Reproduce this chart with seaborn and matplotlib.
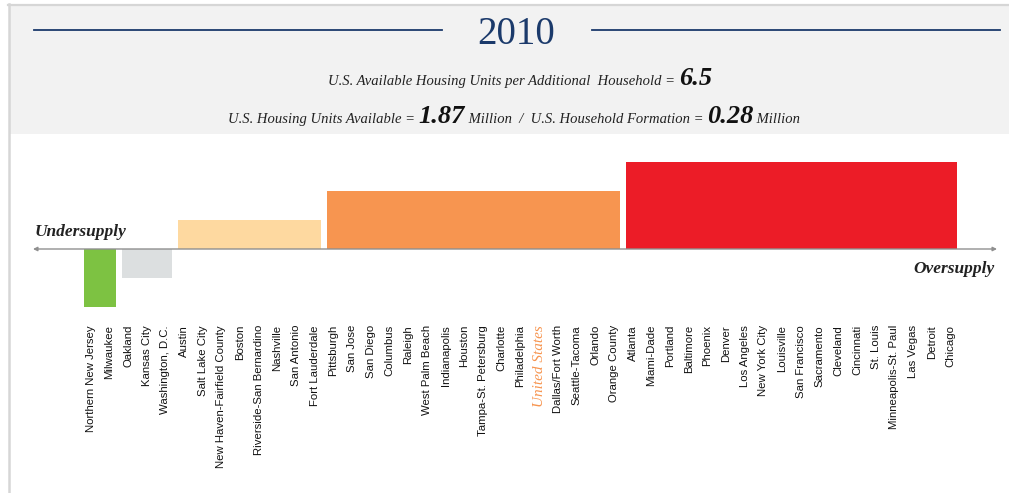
import numpy as np
import pandas as pd
import matplotlib
matplotlib.use("Agg")
import matplotlib.pyplot as plt
import seaborn as sns
from matplotlib.patches import Rectangle
from matplotlib.lines import Line2D

# --- data ---
cities = [
    'Northern New Jersey', 'Milwaukee', 'Oakland', 'Kansas City', 'Washington, D.C.',
    'Austin', 'Salt Lake City', 'New Haven-Fairfield County', 'Boston',
    'Riverside-San Bernardino', 'Nashville', 'San Antonio', 'Fort Lauderdale',
    'Pittsburgh', 'San Jose', 'San Diego', 'Columbus', 'Raleigh', 'West Palm Beach',
    'Indianapolis', 'Houston', 'Tampa-St. Petersburg', 'Charlotte', 'Philadelphia',
    'United States', 'Dallas/Fort Worth', 'Seattle-Tacoma', 'Orlando', 'Orange County',
    'Atlanta', 'Miami-Dade', 'Portland', 'Baltimore', 'Phoenix', 'Denver',
    'Los Angeles', 'New York City', 'Louisville', 'San Francisco', 'Sacramento',
    'Cleveland', 'Cincinnati', 'St. Louis', 'Minneapolis-St. Paul', 'Las Vegas',
    'Detroit', 'Chicago',
]
supply_level = [-2, -2, -1, -1, -1] + [1] * 8 + [2] * 16 + [3] * 18
level_colors = {-2: '#7DC242', -1: '#DCDFE0', 1: '#FED9A0', 2: '#F79550', 3: '#EC1C27'}

title = '2010'
ratio_text = 'U.S. Available Housing Units per Additional  Household = '
ratio_value = '6.5'
units_value = '1.87'
formation_value = '0.28'

df = pd.DataFrame({'city': cities, 'level': supply_level})

W, H = 1009, 493
fig = plt.figure(figsize=(W / 100, H / 100), dpi=100)
fig.patch.set_facecolor('white')


def fx(px):
    return px / W


def fy(py):
    return 1 - py / H


# header band and frame
fig.patches.append(Rectangle((fx(10), fy(134)), 1 - fx(10), fy(6) - fy(134),
                             transform=fig.transFigure, facecolor='#F2F2F2', edgecolor='none', zorder=0))
fig.lines.append(Line2D([fx(8), 1], [fy(5), fy(5)], transform=fig.transFigure, color='#D6D6D6', lw=1.6))
fig.lines.append(Line2D([fx(9), fx(9)], [0, fy(4)], transform=fig.transFigure, color='#D6D6D6', lw=1.8))

navy = '#1B3A6B'
fig.lines.append(Line2D([fx(34), fx(442)], [fy(30), fy(30)], transform=fig.transFigure, color=navy, lw=1.3))
fig.lines.append(Line2D([fx(592), fx(1000)], [fy(30), fy(30)], transform=fig.transFigure, color=navy, lw=1.3))
fig.text(fx(516), fy(35), title, ha='center', va='center', color=navy,
         family='Liberation Serif', fontsize=28)

serif = 'Liberation Serif'


def mixed_line(pieces, xc, yb):
    # lay out text pieces side by side on one baseline, centred at xc
    texts = [fig.text(0, fy(yb), s, ha='left', va='baseline', family=serif, **kw) for s, kw in pieces]
    r = fig.canvas.get_renderer()
    widths = [t.get_window_extent(r).width for t in texts]
    x = xc - sum(widths) / 2
    for t, w in zip(texts, widths):
        t.set_x(fx(x))
        x += w


small = dict(style='italic', fontsize=10.5, color='#222222')
big = dict(style='italic', weight='bold', fontsize=19, color='#111111')
mixed_line([(ratio_text, small), (ratio_value, dict(big, fontsize=19))], 520, 85)
mixed_line([('U.S. Housing Units Available = ', small), (units_value, big),
            (' Million  /  U.S. Household Formation = ', small), (formation_value, big),
            (' Million', small)], 514, 123)

# --- bar chart ---
ax = fig.add_axes([0, fy(320), 1, fy(140) - fy(320)])
sns.barplot(data=df, x='city', y='level', color='#cccccc', width=1.0, linewidth=0,
            errorbar=None, ax=ax)

bars = sorted(ax.patches, key=lambda p: p.get_x())
trim = 0.17
for i, p in enumerate(bars):
    lv = supply_level[i]
    p.set_facecolor(level_colors[lv])
    p.set_edgecolor('none')
    if i == 0 or supply_level[i - 1] != lv:
        p.set_x(p.get_x() + trim)
        p.set_width(p.get_width() - trim)
    if i == len(bars) - 1 or supply_level[i + 1] != lv:
        p.set_width(p.get_width() - trim)

step = 18.69
x0 = 90.65
ax.set_xlim(-x0 / step, (W - x0) / step)
unit = 29.0
ax.set_ylim(-(320 - 249) / unit, (249 - 140) / unit)
ax.axis('off')

# axis line with arrows at both ends
ax.annotate('', xy=(fx(997), fy(249)), xytext=(fx(33), fy(249)), xycoords='figure fraction',
            textcoords='figure fraction',
            arrowprops=dict(arrowstyle='<|-|>', color='#8F8F8F', lw=1.0,
                            mutation_scale=6, shrinkA=0, shrinkB=0), zorder=5)

fig.text(fx(35), fy(236), 'Undersupply', family=serif, style='italic', weight='bold',
         fontsize=12.5, color='#222222', ha='left', va='baseline')
fig.text(fx(995), fy(273), 'Oversupply', family=serif, style='italic', weight='bold',
         fontsize=12.5, color='#222222', ha='right', va='baseline')

# city labels
for i, c in enumerate(cities):
    if c == 'United States':
        ax.text(i, -(325 - 249) / unit, c, rotation=90, ha='center', va='top',
                family=serif, style='italic', fontsize=11, color='#F79550')
    else:
        ax.text(i, -(325 - 249) / unit, c, rotation=90, ha='center', va='top',
                family='Liberation Sans', fontsize=8.2, color='#111111')

fig.savefig('out.png', dpi=100)
